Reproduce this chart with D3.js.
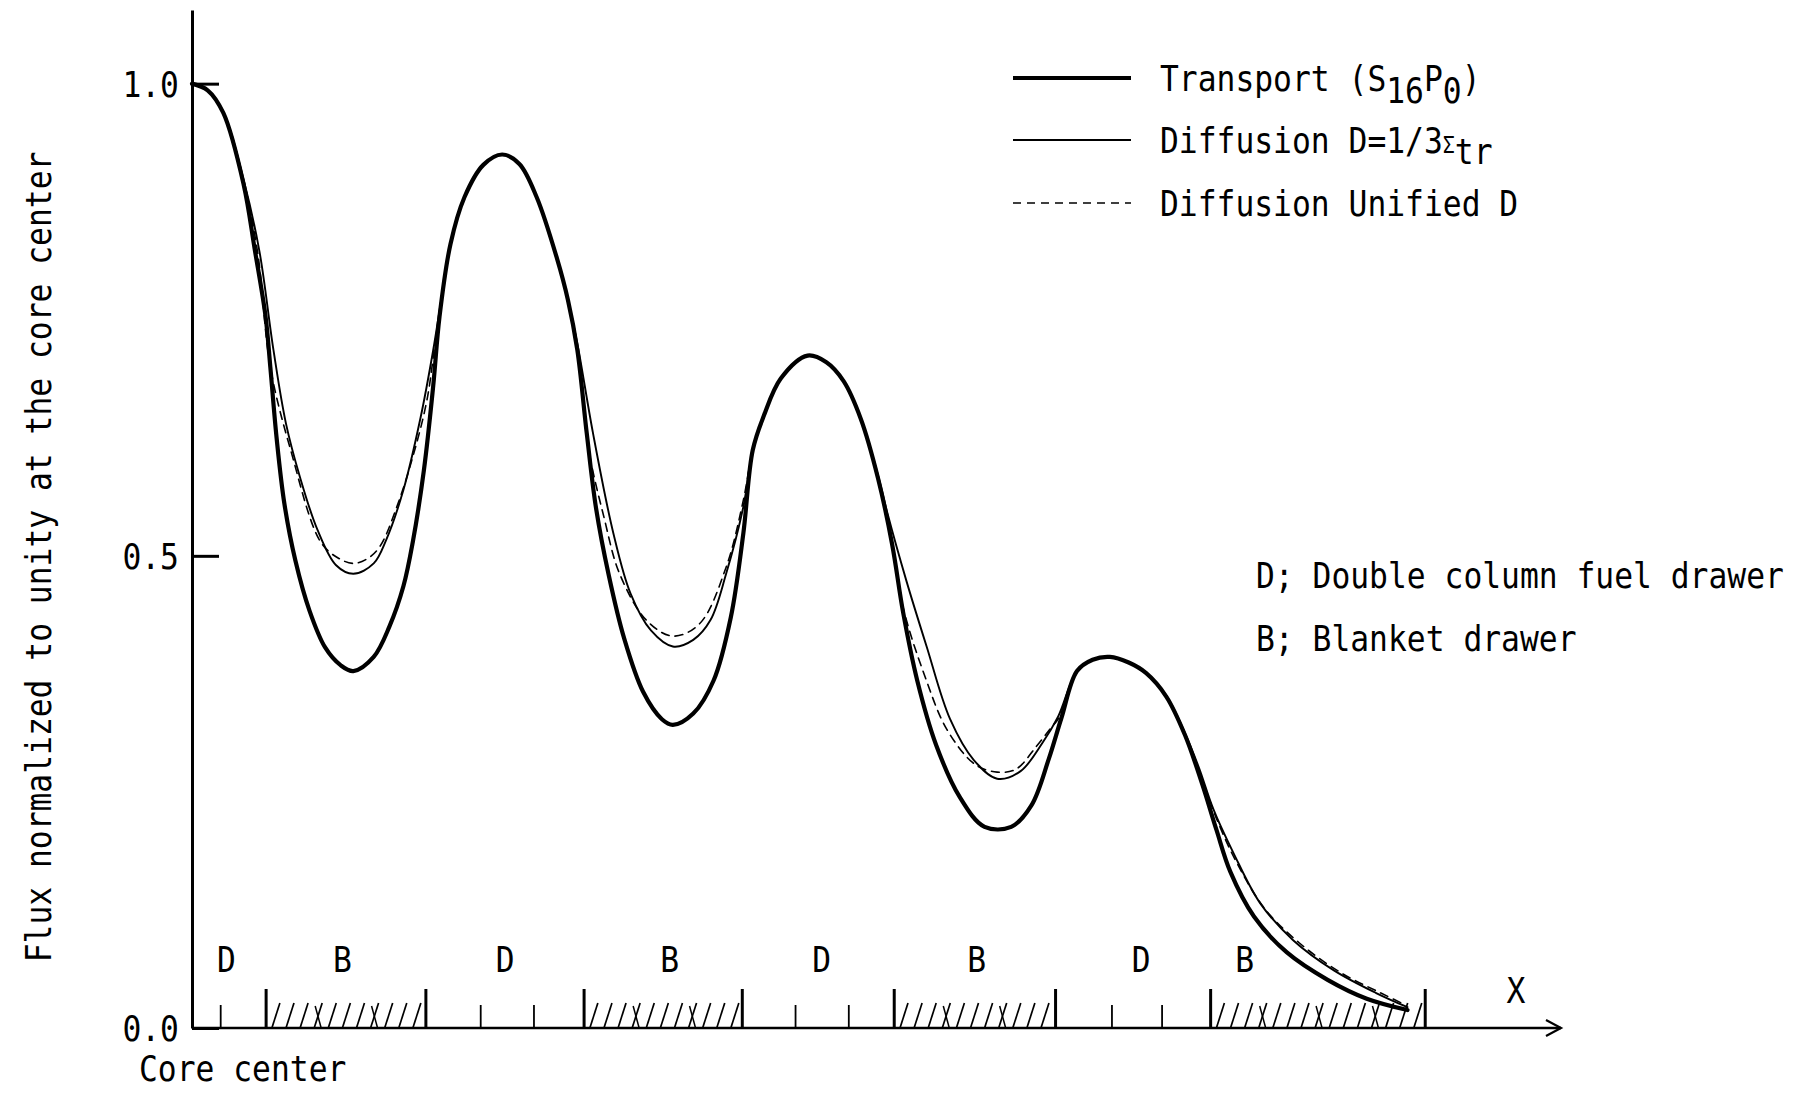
<!DOCTYPE html>
<html>
<head>
<meta charset="utf-8">
<script src="https://cdn.jsdelivr.net/npm/d3@7"></script>
<style>
  body { margin: 0; background: #fff; }
  text { font-family: "DejaVu Sans Mono", "Liberation Mono", monospace; fill: #000; }
</style>
</head>
<body>
<svg id="chart" width="1819" height="1093"></svg>
<script>
// Radial flux traverse from the core center outward (distance in drawer-pitch units, flux normalized to 1 at center)
const transport = [
  [0.0,1.000],[1.0,0.993],[2.0,0.969],[3.3,0.893],[4.0,0.825],[4.7,0.753],[5.0,0.700],[5.4,0.625],
  [5.9,0.555],[6.6,0.495],[7.5,0.442],[8.5,0.403],[9.5,0.384],[10.3,0.378],[11.6,0.393],[12.6,0.425],
  [13.5,0.468],[14.1,0.515],[14.8,0.590],[15.4,0.680],[15.8,0.753],[16.5,0.830],[17.4,0.880],[18.6,0.914],
  [19.8,0.925],[20.9,0.915],[22.0,0.880],[23.3,0.815],[24.0,0.771],[24.6,0.718],[25.2,0.630],[25.8,0.550],
  [26.6,0.480],[27.6,0.412],[28.8,0.356],[30.0,0.327],[30.7,0.321],[32.0,0.333],[33.3,0.368],[34.4,0.435],
  [35.2,0.524],[35.8,0.612],[36.5,0.648],[37.6,0.688],[39.3,0.712],[40.5,0.705],[41.6,0.685],[42.7,0.645],
  [43.8,0.582],[44.7,0.512],[45.4,0.440],[46.3,0.368],[47.5,0.300],[49.0,0.245],[50.6,0.213],[52.3,0.213],
  [53.6,0.236],[54.7,0.285],[55.5,0.328],[56.5,0.378],[57.5,0.390],[58.6,0.393],[59.8,0.387],[60.9,0.376],
  [62.2,0.351],[63.4,0.310],[64.5,0.258],[65.4,0.210],[66.3,0.165],[67.8,0.118],[69.9,0.080],[72.5,0.051],
  [75.0,0.031],[77.6,0.019]
];

const diffusionSigma = [
  [0.0,1.000],[1.0,0.993],[2.0,0.970],[3.3,0.898],[4.3,0.823],[5.2,0.718],[6.0,0.640],[6.9,0.583],
  [8.0,0.528],[9.2,0.490],[10.3,0.481],[11.6,0.492],[12.4,0.517],[13.5,0.570],[14.6,0.647],[15.4,0.718],
  [15.9,0.770],[16.5,0.830],[17.4,0.880],[18.6,0.914],[19.8,0.925],[20.9,0.915],[22.0,0.880],[23.3,0.815],
  [24.0,0.771],[24.6,0.725],[25.6,0.630],[26.9,0.524],[28.0,0.460],[29.3,0.421],[30.7,0.404],[32.0,0.411],
  [33.1,0.432],[34.1,0.481],[35.2,0.552],[35.8,0.612],[36.5,0.648],[37.6,0.688],[39.3,0.712],[40.5,0.705],
  [41.6,0.685],[42.7,0.645],[43.8,0.585],[44.4,0.545],[45.6,0.474],[46.9,0.404],[48.4,0.327],[49.9,0.284],
  [51.4,0.264],[52.9,0.272],[54.3,0.302],[55.3,0.330],[56.5,0.378],[57.5,0.390],[58.6,0.393],[59.8,0.387],
  [60.9,0.376],[62.2,0.352],[63.4,0.312],[64.3,0.275],[65.2,0.232],[66.5,0.185],[68.2,0.132],[70.3,0.093],
  [72.9,0.061],[75.6,0.037],[77.6,0.022]
];

const diffusionUnified = [
  [0.0,1.000],[1.0,0.993],[2.0,0.970],[3.3,0.897],[4.2,0.820],[5.0,0.700],[6.3,0.612],[8.2,0.515],
  [9.3,0.498],[10.3,0.492],[11.2,0.497],[12.0,0.510],[13.1,0.553],[14.1,0.605],[15.0,0.665],[15.6,0.735],
  [16.5,0.830],[17.4,0.880],[18.6,0.914],[19.8,0.925],[20.9,0.915],[22.0,0.880],[23.3,0.815],[24.0,0.771],
  [24.6,0.722],[25.3,0.615],[26.3,0.541],[27.3,0.481],[29.0,0.432],[30.7,0.415],[32.4,0.428],[34.1,0.488],
  [35.2,0.559],[35.8,0.612],[36.5,0.648],[37.6,0.688],[39.3,0.712],[40.5,0.705],[41.6,0.685],[42.7,0.645],
  [43.8,0.582],[44.6,0.520],[45.4,0.445],[46.8,0.372],[48.2,0.316],[50.0,0.279],[51.4,0.271],[52.6,0.274],
  [53.9,0.298],[54.8,0.317],[55.4,0.330],[56.5,0.378],[57.5,0.390],[58.6,0.393],[59.8,0.387],[60.9,0.376],
  [62.2,0.351],[63.4,0.311],[64.4,0.268],[65.4,0.222],[66.7,0.175],[68.5,0.126],[70.7,0.090],[73.3,0.059],
  [75.9,0.037],[77.4,0.025]
];

// axis ticks
const yTickValues = [0.0, 0.5, 1.0];
const yTickLabels = ["0.0", "0.5", "1.0"];

// drawer layout along the traverse
const zoneBoundaries = [4.7, 14.9, 25.0, 35.1, 44.8, 55.1, 65.0, 78.7];
const drawerTicks = [1.8, 18.4, 21.8, 38.5, 41.9, 58.7, 61.9];
const blanketZones = [[4.7, 14.9], [25.0, 35.1], [44.8, 55.1], [65.0, 78.7]];
const zoneLetters = ["D", "B", "D", "B", "D", "B", "D", "B"];
const zoneLetterX = [2.2, 9.6, 20.0, 30.5, 40.2, 50.1, 60.6, 67.2];

const seriesNames = ["Transport", "Diffusion D=1/3\u03A3tr", "Diffusion Unified D"];
const noteLines = ["D; Double column fuel drawer", "B; Blanket drawer"];

const svg = d3.select("#chart");
const FONT = 36;
const SX = 0.87;   // condensed typewriter lettering

// place a condensed text label with its anchor at (px, py)
function label(parent, px, py, str, anchor = "start", rotate = 0) {
  const g = parent.append("g")
    .attr("transform", `translate(${px},${py}) rotate(${rotate}) scale(${SX},1)`);
  const t = g.append("text").attr("font-size", FONT).attr("text-anchor", anchor);
  if (str !== null) t.text(str);
  return t;
}

const x = d3.scaleLinear().domain([0, 87.4]).range([192, 1561]);
const y = d3.scaleLinear().domain([0, 1.078]).range([1028, 10]);

// ---- y axis (ticks pointing inward) ----
const yAxis = d3.axisLeft(y)
  .tickValues(yTickValues)
  .tickFormat((d, i) => yTickLabels[i])
  .tickSizeInner(-27)
  .tickSizeOuter(0)
  .tickPadding(15);

const gy = svg.append("g").attr("transform", `translate(${x(0)},0)`).call(yAxis);
gy.select(".domain").attr("stroke", "#000").attr("stroke-width", 3);
gy.selectAll(".tick line").attr("stroke", "#000").attr("stroke-width", 3);
gy.selectAll(".tick text")
  .attr("font-size", FONT)
  .attr("font-family", "DejaVu Sans Mono")
  .attr("fill", "#000")
  .attr("dy", "0.36em")
  .attr("transform", `scale(${SX},1)`);

// ---- x axis with drawer boundaries ----
const x0 = y(0);
const gx = svg.append("g").attr("transform", `translate(0,${x0})`);
gx.append("line")
  .attr("x1", x(0)).attr("x2", x(87.4))
  .attr("y1", 0).attr("y2", 0)
  .attr("stroke", "#000").attr("stroke-width", 2.6);
// arrow head
gx.append("path")
  .attr("d", `M${x(87.4) - 15},-8 L${x(87.4)},0 L${x(87.4) - 15},8`)
  .attr("fill", "none").attr("stroke", "#000").attr("stroke-width", 2.2);

const boundaryAxis = d3.axisTop(x).tickValues(zoneBoundaries).tickSize(39).tickFormat("");
const gb = gx.append("g").call(boundaryAxis);
gb.select(".domain").remove();
gb.selectAll(".tick line").attr("stroke", "#000").attr("stroke-width", 3);

const drawerAxis = d3.axisTop(x).tickValues(drawerTicks).tickSize(23).tickFormat("");
const gd = gx.append("g").call(drawerAxis);
gd.select(".domain").remove();
gd.selectAll(".tick line").attr("stroke", "#000").attr("stroke-width", 1.8);

// blanket hatching
const hatchStep = 0.9;
blanketZones.forEach(([a, b]) => {
  const marks = d3.range(a + 0.4, b - 0.2, hatchStep);
  marks.forEach((v, i) => {
    const px = x(v);
    gx.append("line")
      .attr("x1", px).attr("y1", 0).attr("x2", px + 8).attr("y2", -25)
      .attr("stroke", "#000").attr("stroke-width", 1.7);
    if (i % 4 === 3) {
      gx.append("line")
        .attr("x1", px + 1).attr("y1", -22).attr("x2", px + 7).attr("y2", 0)
        .attr("stroke", "#000").attr("stroke-width", 1.5);
    }
  });
});

// zone letters
zoneLetters.forEach((d, i) => label(svg, x(zoneLetterX[i]), 972, d, "middle"));

label(svg, 1516, 1003, "X", "middle");
label(svg, 139, 1081, "Core center");

// y title
label(svg, 51, 557, "Flux normalized to unity at the core center", "middle", -90);

// ---- curves ----
const line = d3.line()
  .x(d => x(d[0]))
  .y(d => y(d[1]))
  .curve(d3.curveCatmullRom.alpha(0.5));

const curves = svg.append("g").attr("fill", "none").attr("stroke", "#000")
  .attr("stroke-linejoin", "round").attr("stroke-linecap", "round");

curves.append("path").datum(diffusionUnified).attr("d", line)
  .attr("stroke-width", 1.6).attr("stroke-dasharray", "8,6");
curves.append("path").datum(diffusionSigma).attr("d", line)
  .attr("stroke-width", 1.9);
curves.append("path").datum(transport).attr("d", line)
  .attr("stroke-width", 4.2);

// ---- legend ----
const legendY = [78, 140, 203];
const leg = svg.append("g");
leg.append("line").attr("x1", 1013).attr("x2", 1131).attr("y1", legendY[0]).attr("y2", legendY[0])
  .attr("stroke", "#000").attr("stroke-width", 4.2);
leg.append("line").attr("x1", 1013).attr("x2", 1131).attr("y1", legendY[1]).attr("y2", legendY[1])
  .attr("stroke", "#000").attr("stroke-width", 1.9);
leg.append("line").attr("x1", 1013).attr("x2", 1131).attr("y1", legendY[2]).attr("y2", legendY[2])
  .attr("stroke", "#000").attr("stroke-width", 1.6).attr("stroke-dasharray", "8,6");

const t1 = label(leg, 1160, legendY[0] + 13, null);
t1.append("tspan").text(seriesNames[0] + " (S");
t1.append("tspan").attr("dy", 12).text("16");
t1.append("tspan").attr("dy", -12).text("P");
t1.append("tspan").attr("dy", 12).text("0");
t1.append("tspan").attr("dy", -12).text(")");

const t2 = label(leg, 1160, legendY[1] + 13, null);
t2.append("tspan").text("Diffusion D=1/3");
t2.append("tspan").attr("font-size", 23).text("\u03A3");
t2.append("tspan").attr("dy", 11).text("tr");

label(leg, 1160, legendY[2] + 13, seriesNames[2]);

// ---- region note ----
noteLines.forEach((d, i) => label(svg, 1256, 588 + i * 63, d));
</script>
</body>
</html>
